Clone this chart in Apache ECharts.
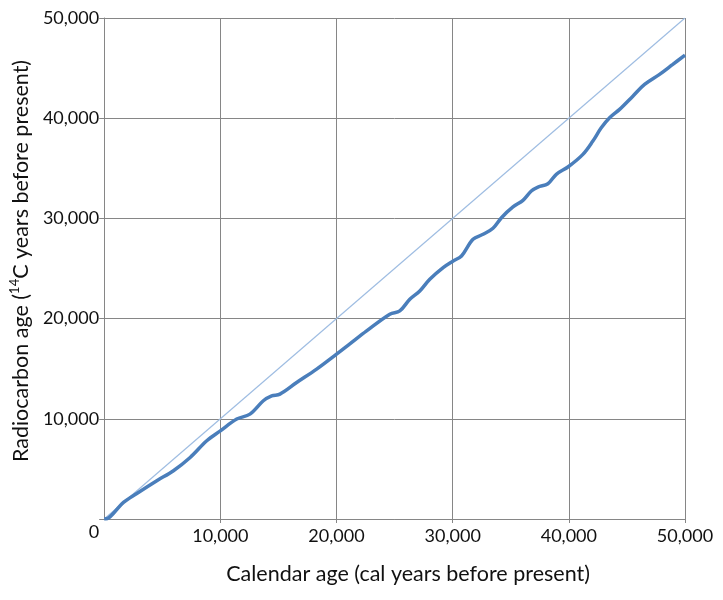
<!DOCTYPE html>
<html>
<head>
<meta charset="utf-8">
<script src="https://cdn.jsdelivr.net/npm/echarts@6/dist/echarts.min.js"></script>
<style>html,body{margin:0;padding:0;background:#fff}#c{width:723px;height:600px}</style>
</head>
<body>
<div id="c"></div>
<script>
const calAge = [0, 370, 900, 1660, 2810, 4530, 5960, 7400, 8830, 10000, 11410, 12550, 13700, 14420, 15130, 16570, 18290, 20000, 21150, 22590, 24590, 25450, 26310, 27170, 28030, 29180, 30040, 30760, 31750, 32620, 33470, 34200, 35190, 36050, 36770, 37340, 38200, 38920, 39980, 41210, 42070, 42790, 43510, 44370, 45510, 46520, 47810, 48950, 50000];
const c14Age = [0, 100, 700, 1655, 2550, 3820, 4820, 6140, 7810, 8800, 9970, 10470, 11800, 12290, 12460, 13620, 14960, 16450, 17480, 18770, 20440, 20770, 21930, 22760, 23930, 25090, 25750, 26250, 27920, 28410, 29010, 30070, 31140, 31800, 32730, 33130, 33460, 34400, 35180, 36390, 37720, 39040, 40040, 40880, 42200, 43370, 44370, 45370, 46300];
const diagonal = [[0, 0], [50000, 50000]];
const axisTicks = [0, 10000, 20000, 30000, 40000, 50000];

const font = 'Lato';
const grey = '#868686';
const fmt = v => v.toLocaleString('en-US');

const chart = echarts.init(document.getElementById('c'), null, {renderer: 'canvas'});
chart.setOption({
  animation: false,
  grid: {left: 104, right: 38, top: 18, bottom: 81, containLabel: false},
  xAxis: {
    type: 'value', min: axisTicks[0], max: axisTicks[axisTicks.length - 1], interval: 10000,
    name: 'Calendar age (cal years before present)',
    nameLocation: 'middle', nameGap: 44,
    nameTextStyle: {fontFamily: font, fontSize: 21.5, color: '#111', padding: [0, 0, 0, 27]},
    axisLine: {show: true, lineStyle: {color: grey, width: 1}},
    axisTick: {show: true, length: 4, lineStyle: {color: grey}},
    axisLabel: {showMinLabel: false, fontFamily: font, fontSize: 18, color: '#111', margin: 8, formatter: fmt},
    splitLine: {show: true, lineStyle: {color: grey, width: 1}}
  },
  yAxis: {
    type: 'value', min: axisTicks[0], max: axisTicks[axisTicks.length - 1], interval: 10000,
    name: '{a|Radiocarbon age (}{s|14}{a|C years before present)}',
    nameLocation: 'middle', nameGap: 70, nameRotate: 90,
    nameTextStyle: {
      fontFamily: font, fontSize: 21.5, color: '#111', padding: [0, 0, 0, 15],
      rich: {
        a: {fontFamily: font, fontSize: 21.5, color: '#111', lineHeight: 26},
        s: {fontFamily: font, fontSize: 13, color: '#111', lineHeight: 26, verticalAlign: 'top', padding: [0, 0, 10, 0]}
      }
    },
    axisLine: {show: true, lineStyle: {color: grey, width: 1}},
    axisTick: {show: true, length: 5, lineStyle: {color: grey}},
    axisLabel: {
      fontFamily: font, fontSize: 18, color: '#111', margin: 5,
      formatter: v => v === 0 ? '{z|0}' : fmt(v),
      rich: {z: {fontFamily: font, fontSize: 18, color: '#111', padding: [26, 0, 0, 0]}}
    },
    splitLine: {show: true, lineStyle: {color: grey, width: 1}}
  },
  series: [
    {
      type: 'line', data: diagonal, symbol: 'none', silent: true,
      lineStyle: {color: '#9fbde2', width: 1.2}
    },
    {
      type: 'line', data: calAge.map((x, i) => [x, c14Age[i]]), symbol: 'none', smooth: 0.35,
      lineStyle: {color: '#4a7ebb', width: 3.5}
    }
  ]
});
</script>
</body>
</html>
